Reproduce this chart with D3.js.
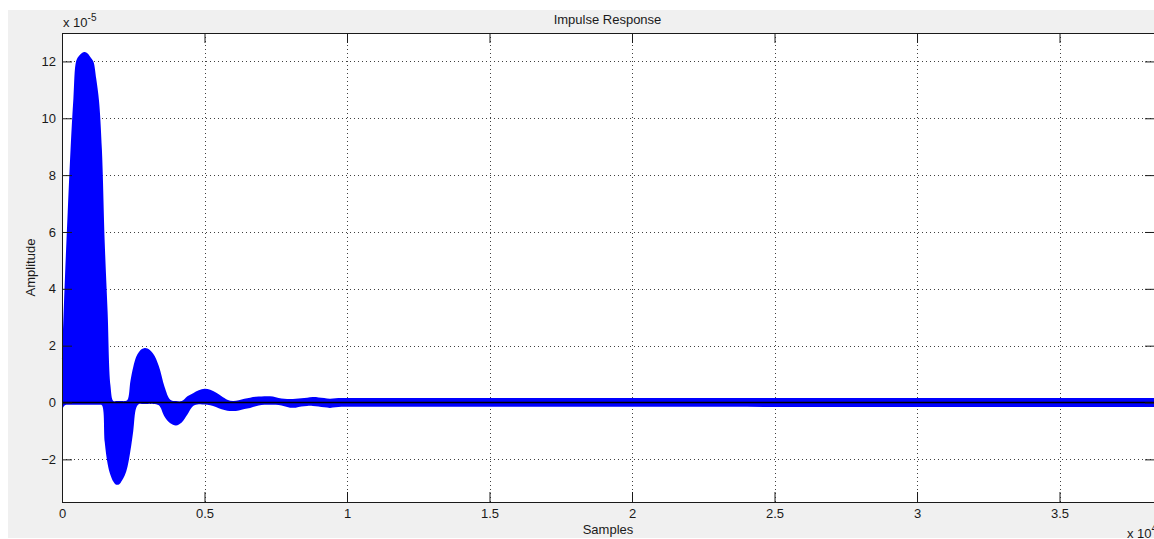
<!DOCTYPE html>
<html>
<head>
<meta charset="utf-8">
<script src="https://cdn.jsdelivr.net/npm/d3@7"></script>
<style>
  body { margin: 0; background: #fff; }
  text { font-family: "Liberation Sans", Arial, sans-serif; font-size: 13px; }
</style>
</head>
<body>
<div id="chart"></div>
<script>
// sample position (x 10^4) and the outer edges of the dense stem plot (x 10^-5)
var sampleX = [0, 0.01, 0.02, 0.03, 0.04, 0.05, 0.06, 0.07, 0.08, 0.09,
               0.10, 0.11, 0.12, 0.13, 0.14, 0.15, 0.16, 0.17, 0.18, 0.19,
               0.20, 0.21, 0.22, 0.23, 0.24, 0.25, 0.26, 0.27, 0.28, 0.29,
               0.30, 0.32, 0.34, 0.36, 0.38, 0.40, 0.42, 0.44, 0.46, 0.48,
               0.50, 0.52, 0.54, 0.56, 0.58, 0.60, 0.62, 0.64, 0.66, 0.68,
               0.70, 0.72, 0.74, 0.76, 0.78, 0.80, 0.82, 0.84, 0.86, 0.88,
               0.90, 0.92, 0.94, 0.96, 0.98, 1.00, 3.835];
var upper = [1.5, 4.3, 6.7, 8.9, 10.7, 12.02, 12.2, 12.3, 12.33, 12.28,
             12.15, 12.0, 11.4, 10.6, 8.9, 5.6, 3.2, 0.6, 0.05, 0.05,
             0.05, 0.05, 0.05, 0.1, 0.75, 1.25, 1.6, 1.78, 1.88, 1.92,
             1.9, 1.72, 1.28, 0.55, 0.1, 0.05, 0.05, 0.22, 0.33, 0.43,
             0.48, 0.45, 0.35, 0.22, 0.1, 0.05, 0.08, 0.13, 0.17, 0.2,
             0.21, 0.22, 0.21, 0.16, 0.13, 0.12, 0.13, 0.15, 0.17, 0.19,
             0.18, 0.16, 0.13, 0.15, 0.16, 0.16, 0.16];
var lower = [-0.25, -0.1, -0.08, -0.08, -0.08, -0.08, -0.08, -0.08, -0.08, -0.08,
             -0.08, -0.08, -0.08, -0.08, -0.1, -1.4, -2.15, -2.55, -2.78, -2.89,
             -2.88, -2.75, -2.57, -2.25, -1.7, -1.0, -0.2, -0.05, -0.05, -0.05,
             -0.05, -0.05, -0.1, -0.5, -0.73, -0.81, -0.7, -0.42, -0.12, -0.06,
             -0.07, -0.1, -0.16, -0.24, -0.29, -0.30, -0.28, -0.23, -0.19, -0.13,
             -0.09, -0.08, -0.08, -0.09, -0.13, -0.18, -0.18, -0.14, -0.12, -0.12,
             -0.14, -0.17, -0.19, -0.17, -0.15, -0.15, -0.16];

var xTicks = [0, 0.5, 1, 1.5, 2, 2.5, 3, 3.5];
var yTicks = [-2, 0, 2, 4, 6, 8, 10, 12];

var width = 1154, height = 539;
var plot = {left: 62, right: 1155, top: 33, bottom: 502};

var x = d3.scaleLinear().domain([0, 3.835]).range([plot.left, plot.right]);
var y = d3.scaleLinear().domain([-3.5, 13]).range([plot.bottom, plot.top]);

var svg = d3.select("#chart").append("svg")
    .attr("width", width)
    .attr("height", height);

// figure background
svg.append("rect")
    .attr("x", 8).attr("y", 10)
    .attr("width", width - 8).attr("height", height - 11)
    .attr("fill", "#f0f0f0");

svg.append("rect")
    .attr("x", plot.left).attr("y", plot.top)
    .attr("width", plot.right - plot.left).attr("height", plot.bottom - plot.top)
    .attr("fill", "#fff");

// dotted grid
svg.append("g").selectAll("line")
    .data(xTicks.slice(1))
  .enter().append("line")
    .attr("x1", function (d) { return Math.round(x(d)) + 0.5; })
    .attr("x2", function (d) { return Math.round(x(d)) + 0.5; })
    .attr("y1", plot.top)
    .attr("y2", plot.bottom)
    .attr("stroke", "#404040")
    .attr("stroke-dasharray", "1,3");

svg.append("g").selectAll("line")
    .data(yTicks)
  .enter().append("line")
    .attr("x1", plot.left)
    .attr("x2", plot.right)
    .attr("y1", function (d) { return Math.round(y(d)) + 0.5; })
    .attr("y2", function (d) { return Math.round(y(d)) + 0.5; })
    .attr("stroke", "#404040")
    .attr("stroke-dasharray", "1,3");

// the stems are so dense that they fill the envelope
var area = d3.area()
    .x(function (d, i) { return x(sampleX[i]); })
    .y0(function (d, i) { return y(lower[i]); })
    .y1(function (d, i) { return y(upper[i]); })
    .curve(d3.curveCatmullRom.alpha(0.5));

svg.append("path")
    .datum(sampleX)
    .attr("d", area)
    .attr("fill", "#0000ff");

// stem baseline
svg.append("line")
    .attr("x1", x(0)).attr("x2", x(3.835))
    .attr("y1", y(0)).attr("y2", y(0))
    .attr("stroke", "#000")
    .attr("stroke-width", 1.5);

// axes, ticks pointing inwards
function styleAxis(g) {
  g.attr("font-family", null).attr("font-size", null).attr("color", "#1a1a1a");
  g.select(".domain").remove();
}

svg.append("g")
    .attr("transform", "translate(0," + plot.bottom + ")")
    .call(d3.axisBottom(x).tickValues(xTicks).tickFormat(d3.format("")).tickSize(-10).tickPadding(7))
    .call(styleAxis);

svg.append("g")
    .attr("transform", "translate(0," + plot.top + ")")
    .call(d3.axisTop(x).tickValues(xTicks).tickFormat("").tickSize(-10))
    .call(styleAxis);

svg.append("g")
    .attr("transform", "translate(" + plot.left + ",0)")
    .call(d3.axisLeft(y).tickValues(yTicks).tickFormat(d3.format("")).tickSize(-10).tickPadding(6))
    .call(styleAxis);

svg.append("g")
    .attr("transform", "translate(" + plot.right + ",0)")
    .call(d3.axisRight(y).tickValues(yTicks).tickFormat("").tickSize(-10))
    .call(styleAxis);

svg.append("rect")
    .attr("x", plot.left + 0.5).attr("y", plot.top + 0.5)
    .attr("width", plot.right - plot.left).attr("height", plot.bottom - plot.top)
    .attr("fill", "none")
    .attr("stroke", "#1a1a1a");

// labels
svg.append("text")
    .attr("x", (plot.left + plot.right) / 2 - 1)
    .attr("y", 24)
    .attr("text-anchor", "middle")
    .attr("fill", "#1a1a1a")
    .text("Impulse Response");

svg.append("text")
    .attr("x", 608)
    .attr("y", 534)
    .attr("text-anchor", "middle")
    .attr("fill", "#1a1a1a")
    .text("Samples");

svg.append("text")
    .attr("transform", "translate(35," + (plot.top + plot.bottom) / 2 + ") rotate(-90)")
    .attr("text-anchor", "middle")
    .attr("fill", "#1a1a1a")
    .text("Amplitude");

var yExp = svg.append("text")
    .attr("x", 63).attr("y", 27)
    .attr("fill", "#1a1a1a");
yExp.append("tspan").text("x 10");
yExp.append("tspan").attr("dy", -6).attr("font-size", "10px").text("-5");

// sits at the figure's corner, clipped by the window as in the original
var xExp = svg.append("text")
    .attr("x", 1127).attr("y", 538)
    .attr("fill", "#1a1a1a");
xExp.append("tspan").text("x 10");
xExp.append("tspan").attr("dy", -6).attr("font-size", "10px").text("4");
</script>
</body>
</html>
